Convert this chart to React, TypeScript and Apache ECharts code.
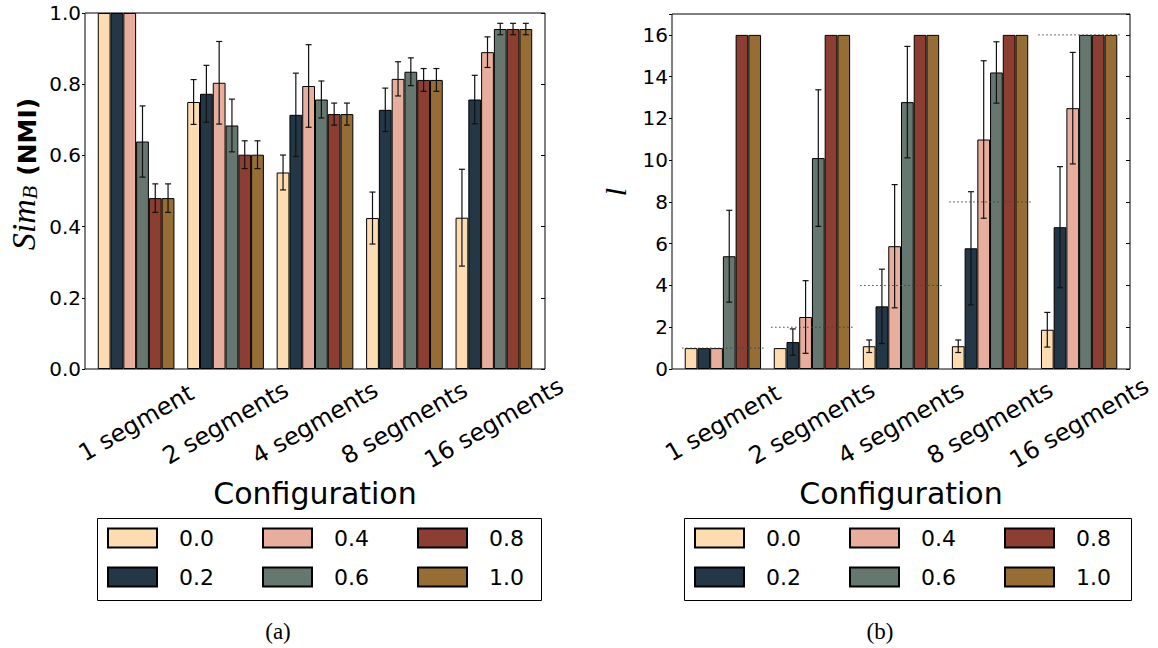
import React, { useEffect, useRef } from 'react';
import * as echarts from 'echarts';

// ---------- data ----------
const categories = ['1 segment', '2 segments', '4 segments', '8 segments', '16 segments'];
const levels = ['0.0', '0.2', '0.4', '0.6', '0.8', '1.0'];
const legendOrder = ['0.0', '0.4', '0.8', '0.2', '0.6', '1.0'];
const colors = ['#FEDCB2', '#243746', '#E7AE9E', '#66776F', '#8B3E31', '#966D35'];

// panel (a): Sim_B (NMI); one row per level, one value per configuration
const simValues = [
  [1.0, 0.75, 0.552, 0.424, 0.425],
  [1.0, 0.773, 0.714, 0.728, 0.757],
  [1.0, 0.804, 0.795, 0.815, 0.89],
  [0.639, 0.684, 0.757, 0.835, 0.955],
  [0.48, 0.602, 0.716, 0.812, 0.955],
  [0.48, 0.602, 0.716, 0.812, 0.955],
];
const simErrors = [
  [0, 0.063, 0.049, 0.073, 0.136],
  [0, 0.08, 0.117, 0.061, 0.068],
  [0, 0.116, 0.116, 0.048, 0.043],
  [0.1, 0.074, 0.052, 0.039, 0.016],
  [0.04, 0.039, 0.031, 0.032, 0.016],
  [0.04, 0.039, 0.031, 0.032, 0.016],
];

// panel (b): l
const lValues = [
  [1, 1, 1.09, 1.09, 1.88],
  [1, 1.29, 3.0, 5.78, 6.79],
  [1, 2.49, 5.88, 10.99, 12.49],
  [5.4, 10.1, 12.78, 14.2, 16],
  [16, 16, 16, 16, 16],
  [16, 16, 16, 16, 16],
];
const lErrors = [
  [0, 0, 0.3, 0.3, 0.83],
  [0, 0.63, 1.78, 2.71, 2.9],
  [0, 1.74, 2.95, 3.77, 2.67],
  [2.2, 3.27, 2.67, 1.47, 0],
  [0, 0, 0, 0, 0],
  [0, 0, 0, 0, 0],
];
const segmentCounts = [1, 2, 4, 8, 16];

const simAxis = { min: 0, max: 1, interval: 0.2 };
const lAxis = { min: 0, max: 17, interval: 2, lastLabel: 16 };

// ---------- helpers ----------
const FONT = 'DejaVu Sans';

const errRender = (params: any, api: any) => {
  const c = api.value(0);
  const j = api.value(1);
  const v = api.value(2);
  const e = api.value(3);
  const band = api.size([1, 0])[0];
  const slot = band / 7;
  const base = api.coord([c, v]);
  const x = base[0] + (j - 3) * slot;
  const yTop = api.coord([c, v + e])[1];
  const yBot = api.coord([c, v - e])[1];
  const cap = 3;
  const style = { stroke: '#111', lineWidth: 1.2 };
  return {
    type: 'group',
    children: [
      { type: 'line', shape: { x1: x, y1: yTop, x2: x, y2: yBot }, style },
      { type: 'line', shape: { x1: x - cap, y1: yTop, x2: x + cap, y2: yTop }, style },
      { type: 'line', shape: { x1: x - cap, y1: yBot, x2: x + cap, y2: yBot }, style },
    ],
  };
};

const refRender = (params: any, api: any) => {
  const c = api.value(0);
  const v = api.value(1);
  const band = api.size([1, 0])[0];
  const p = api.coord([c, v]);
  const start = p[0] - band / 2;
  return {
    type: 'line',
    shape: { x1: start - 0.03 * band, y1: p[1], x2: start + 0.9 * band, y2: p[1] },
    style: { stroke: '#444', lineWidth: 1, lineDash: [1.5, 2.5] },
  };
};

function buildPanel(
  idx: number,
  frame: { left: number; top: number; width: number; height: number },
  values: number[][],
  errors: number[][],
  axis: { min: number; max: number; interval: number; lastLabel?: number },
  decimals: number
) {
  const slot = frame.width / 36;
  const grids = [
    { ...frame, show: true, borderColor: '#000', borderWidth: 1, backgroundColor: 'transparent' },
    { left: frame.left + slot, top: frame.top, width: slot * 35, height: frame.height },
    { left: frame.left + slot / 2, top: frame.top, width: slot * 35, height: frame.height },
  ];
  const g0 = idx * 3;
  const xAxes = [
    { gridIndex: g0, type: 'value', min: 0, max: 1, show: false },
    { gridIndex: g0 + 1, type: 'category', data: categories, show: false },
    {
      gridIndex: g0 + 2,
      type: 'category',
      data: categories,
      axisLine: { show: false },
      axisTick: { show: false },
      axisLabel: {
        interval: 0,
        rotate: 30,
        align: 'center',
        verticalAlign: 'middle',
        margin: 54,
        fontSize: 24,
        fontFamily: FONT,
        color: '#000',
      },
      name: 'Configuration',
      nameLocation: 'middle',
      nameGap: 108,
      nameTextStyle: { fontSize: 30, fontFamily: FONT, color: '#000' },
    },
  ];
  const tickFmt = (v: number) =>
    axis.lastLabel != null && v > axis.lastLabel ? '' : v.toFixed(decimals);
  const yAxes = [
    {
      gridIndex: g0,
      type: 'value',
      position: 'left',
      min: axis.min,
      max: axis.max,
      interval: axis.interval,
      axisLine: { show: false },
      axisTick: { show: true, inside: false, length: 3, lineStyle: { color: '#000' } },
      axisLabel: { margin: 4, fontSize: 20, fontFamily: FONT, color: '#000', formatter: tickFmt },
      splitLine: { show: false },
    },
    {
      gridIndex: g0,
      type: 'value',
      position: 'right',
      min: axis.min,
      max: axis.max,
      interval: axis.interval,
      axisLine: { show: false },
      axisTick: { show: true, inside: true, length: 4, lineStyle: { color: '#000' } },
      axisLabel: { show: false },
      splitLine: { show: false },
    },
    { gridIndex: g0 + 1, type: 'value', min: axis.min, max: axis.max, show: false },
    { gridIndex: g0 + 2, type: 'value', min: axis.min, max: axis.max, show: false },
  ];
  const xBar = idx * 3 + 1;
  const yBar = idx * 4 + 2;
  const series: any[] = levels.map((name, j) => ({
    type: 'bar',
    name,
    xAxisIndex: xBar,
    yAxisIndex: yBar,
    data: values[j],
    barGap: '0%',
    barCategoryGap: '0%',
    itemStyle: { color: colors[j], borderColor: '#000', borderWidth: 1 },
    emphasis: { disabled: true },
  }));
  // empty seventh slot that separates the groups
  series.push({
    type: 'bar',
    name: 'gap',
    xAxisIndex: xBar,
    yAxisIndex: yBar,
    data: categories.map(() => '-'),
    barGap: '0%',
    barCategoryGap: '0%',
  });
  const errData: number[][] = [];
  levels.forEach((_, j) => {
    categories.forEach((__, c) => {
      if (errors[j][c] > 0) errData.push([c, j, values[j][c], errors[j][c]]);
    });
  });
  series.push({
    type: 'custom',
    xAxisIndex: xBar,
    yAxisIndex: yBar,
    renderItem: errRender,
    encode: { x: 0, y: 2 },
    data: errData,
    z: 5,
    silent: true,
  });
  return { grids, xAxes, yAxes, series };
}

export default function App() {
  const ref = useRef<HTMLDivElement>(null);
  useEffect(() => {
    if (!ref.current) return;
    const chart = echarts.init(ref.current, undefined, { renderer: 'svg' });
    const a = buildPanel(0, { left: 85, top: 13, width: 460, height: 356 }, simValues, simErrors, simAxis, 1);
    const b = buildPanel(1, { left: 672, top: 14, width: 458, height: 355 }, lValues, lErrors, lAxis, 0);
    b.series.push({
      type: 'custom',
      xAxisIndex: 4,
      yAxisIndex: 6,
      renderItem: refRender,
      encode: { x: 0, y: 1 },
      data: segmentCounts.map((v, i) => [i, v]),
      z: 6,
      silent: true,
    });
    const legendBase = {
      data: legendOrder,
      orient: 'horizontal',
      top: 526,
      width: 450,
      itemWidth: 49,
      itemHeight: 19,
      itemGap: 15,
      padding: 0,
      icon: 'rect',
      selectedMode: false,
      textStyle: {
        fontSize: 22,
        fontFamily: FONT,
        color: '#000',
        width: 68,
        lineHeight: 24,
        padding: [0, 0, 0, 17],
      },
    };
    chart.setOption({
      animation: false,
      backgroundColor: '#fff',
      grid: [...a.grids, ...b.grids],
      xAxis: [...a.xAxes, ...b.xAxes],
      yAxis: [...a.yAxes, ...b.yAxes],
      series: [...a.series, ...b.series],
      legend: [
        { ...legendBase, left: 107 },
        { ...legendBase, left: 694 },
      ],
      graphic: [
        {
          type: 'rect',
          shape: { x: 97.5, y: 518.5, width: 444, height: 82 },
          style: { fill: 'none', stroke: '#000', lineWidth: 1 },
        },
        {
          type: 'rect',
          shape: { x: 684.5, y: 518.5, width: 447, height: 82 },
          style: { fill: 'none', stroke: '#000', lineWidth: 1 },
        },
        {
          type: 'text',
          x: 23,
          y: 174,
          rotation: Math.PI / 2,
          style: {
            text: '{i|Sim}{s|B}{n|(NMI)}',
            align: 'center',
            verticalAlign: 'middle',
            fill: '#000',
            rich: {
              i: { font: 'italic 34px "Liberation Serif"', lineHeight: 34, verticalAlign: 'bottom' },
              s: { font: 'italic 22px "Liberation Serif"', lineHeight: 14, verticalAlign: 'bottom' },
              n: {
                font: 'bold 25px "DejaVu Sans"',
                lineHeight: 34,
                verticalAlign: 'bottom',
                padding: [0, 0, 0, 10],
              },
            },
          },
        },
        {
          type: 'text',
          x: 615,
          y: 192,
          rotation: Math.PI / 2,
          style: {
            text: 'l',
            align: 'center',
            verticalAlign: 'middle',
            fill: '#000',
            font: 'italic 30px "Liberation Serif"',
          },
        },
        {
          type: 'text',
          x: 278,
          y: 631,
          style: { text: '(a)', align: 'center', verticalAlign: 'middle', fill: '#000', font: '23px "Liberation Serif"' },
        },
        {
          type: 'text',
          x: 880,
          y: 631,
          style: { text: '(b)', align: 'center', verticalAlign: 'middle', fill: '#000', font: '23px "Liberation Serif"' },
        },
      ],
    });
    return () => chart.dispose();
  }, []);
  return (
    <div
      ref={ref}
      style={{ position: 'absolute', left: 0, top: 0, width: 1158, height: 648, background: '#fff' }}
    />
  );
}
